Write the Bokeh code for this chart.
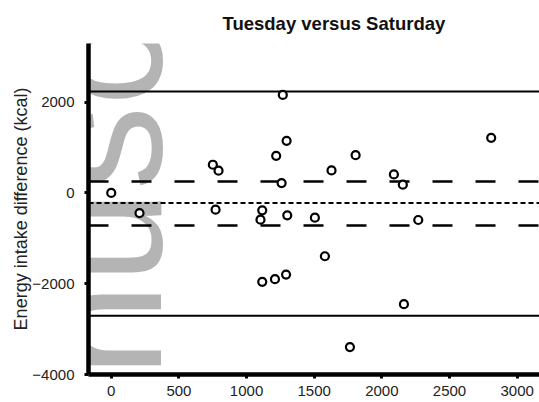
from bokeh.plotting import figure
from bokeh.models import Span, Label, FixedTicker, Range1d
from bokeh.embed import file_html
from bokeh.resources import INLINE

# Bland-Altman data: mean intake (kcal) vs difference (kcal)
mean_x = [0, 209, 751, 793, 771, 1116, 1103, 1219, 1259, 1296, 1301, 1268,
          1116, 1210, 1292, 1505, 1579, 1628, 1764, 1806, 2089, 2155, 2163,
          2269, 2808]
diff_y = [0, -444, 620, 488, -369, -385, -590, 817, 215, 1147, -495, 2158,
          -1960, -1900, -1800, -546, -1396, 494, -3396, 831, 407, 180, -2451,
          -597, 1213]

bias = -224
bias_ci_upper = 253
bias_ci_lower = -721
loa_upper = 2231
loa_lower = -2708

x_ticks = [0, 500, 1000, 1500, 2000, 2500, 3000]
y_ticks = [-4000, -2000, 0, 2000]

title_text = "Tuesday versus Saturday"
y_label = "Energy intake difference (kcal)"
watermark = "Manuscript"

FONT = "Liberation Sans"

p = figure(width=539, height=402, output_backend="svg", toolbar_location=None,
           x_range=Range1d(-168, 3165), y_range=Range1d(-4000, 3290),
           min_border_left=88, min_border_right=0, min_border_top=43,
           min_border_bottom=28)

p.title.text = title_text
p.title.text_font = FONT
p.title.text_font_size = "18.5px"
p.title.text_font_style = "bold"
p.title.align = "left"
p.title.offset = 134
p.title.standoff = 19
p.title.text_color = "#111111"

p.grid.visible = False
p.outline_line_color = None
p.background_fill_color = "white"

# watermark (screen units, annotation level so that it may extend past the frame)
p.add_layout(Label(x=14, y=175, x_units="screen", y_units="screen",
                   text=watermark, angle=90, angle_units="deg",
                   text_align="center", text_baseline="alphabetic",
                   text_font=FONT, text_font_size="168px",
                   text_color="#b4b4b4", level="annotation"))

for loc in (loa_upper, loa_lower):
    p.add_layout(Span(location=loc, dimension="width", line_color="black",
                      line_width=2, level="annotation"))
for loc in (bias_ci_upper, bias_ci_lower):
    p.add_layout(Span(location=loc, dimension="width", line_color="black",
                      line_width=2.5, line_dash="20 23", level="annotation"))
p.add_layout(Span(location=bias, dimension="width", line_color="black",
                  line_width=2, line_dash="5 3", level="annotation"))

p.scatter(mean_x, diff_y, marker="circle", size=8, line_color="black",
          line_width=2.2, fill_color="white", level="overlay")

p.xaxis.ticker = FixedTicker(ticks=x_ticks)
p.yaxis.ticker = FixedTicker(ticks=y_ticks)
for ax in (p.xaxis[0], p.yaxis[0]):
    ax.level = "overlay"
    ax.axis_line_width = 4.5
    ax.axis_line_color = "black"
    ax.major_tick_in = 0
    ax.major_tick_out = 4
    ax.major_tick_line_width = 3
    ax.minor_tick_line_color = None
    ax.major_label_text_font = FONT
    ax.major_label_text_font_size = "15px"
    ax.major_label_text_color = "#222222"
p.xaxis.major_label_standoff = 7
p.yaxis.major_label_standoff = 10
p.yaxis.axis_label = y_label
p.yaxis.axis_label_standoff = -2
p.yaxis.axis_label_text_font = FONT
p.yaxis.axis_label_text_font_size = "18px"
p.yaxis.axis_label_text_font_style = "normal"
p.yaxis.axis_label_text_color = "#222222"

open("out.html", "w").write(file_html(p, INLINE))
